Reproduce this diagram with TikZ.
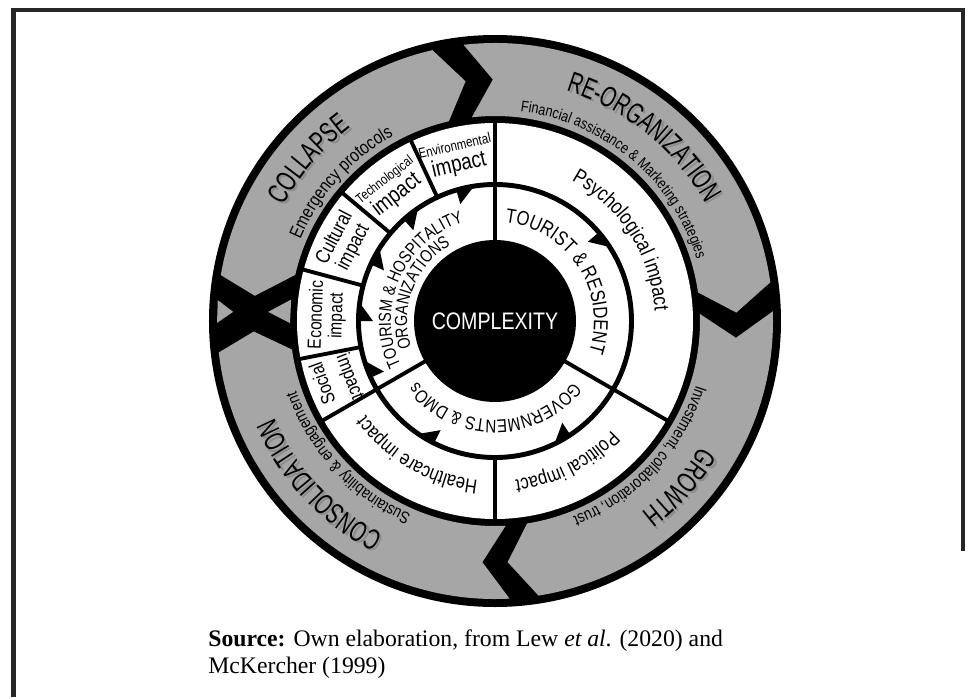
\documentclass[tikz,border=0pt]{standalone}
\usepackage{fontspec}
\setmainfont{Liberation Serif}
\setsansfont{Liberation Sans}[FakeStretch=0.82]
\newfontfamily\ttlfam{Liberation Sans}[FakeStretch=0.68]
\usetikzlibrary{decorations.text, positioning}
\newcommand\ttlfont{\ttlfam\fontsize{16.5}{19}\selectfont}
\newcommand\subfont{\sffamily\fontsize{9.5}{11}\selectfont}
\newcommand\actfont{\sffamily\fontsize{11.5}{13}\selectfont}

\begin{document}
\begin{tikzpicture}[x=0.02cm,y=0.02cm,
  band/.style={fill=black!35},
  divider/.style={line width=2.2pt},
  tooth/.style={fill=black},
  impact/.style={font=\sffamily\fontsize{11.5}{12}\selectfont, align=center, inner sep=0pt},
  along/.style={decorate, decoration={text along path, text align=center, text={#1}}},
  shade/.style={xshift=1.3, yshift=-1.3}]
\useasboundingbox (-495,-376) rectangle (479,321);
% frame
\draw[line width=2.3pt, black!85] (-481.5,-376) -- (-481.5,311) -- (468,311) -- (468,-230);
% adaptive cycle ring
\fill (0,0) circle[radius=286];
\fill[band] (170.5:278) arc[start angle=170.5, end angle=103, radius=278] -- (97:241.5)
  -- (103:205) arc[start angle=103, end angle=167, radius=205] -- (174:241.5) -- cycle;
\fill[band] (96.5:278) arc[start angle=96.5, end angle=8, radius=278] -- (2:241.5)
  -- (8:205) arc[start angle=8, end angle=96.5, radius=205] -- (90.5:241.5) -- cycle;
\fill[band] (2:278) arc[start angle=2, end angle=-81, radius=278] -- (-87:241.5)
  -- (-81:205) arc[start angle=-81, end angle=2, radius=205] -- (-4:241.5) -- cycle;
\fill[band] (-87:278) arc[start angle=-87, end angle=-173.5, radius=278] -- (-177.5:241.5)
  -- (-172:205) arc[start angle=-172, end angle=-87, radius=205] -- (-93:241.5) -- cycle;
\fill[band] (175.7:278) -- (180.4:278) -- (178:262) -- cycle;
\fill[band] (174:205) -- (180.6:205) -- (177.7:227) -- cycle;
% impacts and actors
\fill[white] (0,0) circle[radius=198];
\draw[line width=2.8pt] (0,0) circle[radius=136.5];
\foreach \a in {115,140,165,191,270}
  \draw[divider] (\a:136) -- (\a:199);
\foreach \a in {90,210,330}
  \draw[divider] (\a:78) -- (\a:199);
\foreach \a in {103,128.5,152,176.5,201,240,300,37}
  \fill[tooth] ({\a+3.5}:135) -- ({\a-3.5}:135) -- ({\a+3.5}:122) -- cycle;
\node (core) [circle, fill=black, inner sep=0pt, minimum size=3.24cm, text=white,
  font=\sffamily\fontsize{13.6}{16}\selectfont] at (0,0) {COMPLEXITY};
% phases
\foreach \c/\l in {139/COLLAPSE, 51/RE-ORGANIZATION, -42/GROWTH, 223/CONSOLIDATION} {
  \path[along={|\ttlfont\color{black!45}|\l}, shade] ({\c+60}:241) arc[start angle={\c+60}, end angle={\c-60}, radius=241];
  \path[along={|\ttlfont|\l}] ({\c+60}:241) arc[start angle={\c+60}, end angle={\c-60}, radius=241];
}
\path[along={|\sffamily\fontsize{10.5}{12}\selectfont|Emergency protocols}] (198:211) arc[start angle=198, end angle=78, radius=211];
\path[along={|\sffamily\fontsize{8.8}{10}\selectfont|Financial assistance {\&} Marketing strategies}] (110:211) arc[start angle=110, end angle=-10, radius=211];
\path[along={|\subfont|Investment, collaboration, trust}] (17:211) arc[start angle=17, end angle=-103, radius=211];
\path[along={|\subfont|Sustainability {\&} engagement}] (283:211) arc[start angle=283, end angle=163, radius=211];
% impact labels
\path[along={|\sffamily\fontsize{12}{14}\selectfont|Psychological impact}] (92.5:160) arc[start angle=92.5, end angle=-27.5, radius=160];
\path[along={|\actfont|Political impact}] (-3:160) arc[start angle=-3, end angle=-123, radius=160];
\path[along={|\actfont|Healthcare impact}] (-60:160) arc[start angle=-60, end angle=-180, radius=160];
\node (envImp) [impact, rotate=13] at (103:167)
  {{\fontsize{8}{8.5}\selectfont Environmental}\\{\fontsize{13}{13}\selectfont impact}};
\node (techImp) [impact, rotate=38] at (128:167)
  {{\fontsize{7.8}{8.5}\selectfont Technological}\\{\fontsize{13}{13}\selectfont impact}};
\node (cultImp) [impact, rotate=62.5] at (152.5:170) {Cultural\\impact};
\node (econImp) [impact, rotate=88, font=\sffamily\fontsize{10.8}{11.5}\selectfont] at (178:168) {Economic\\impact};
\node (socA) [impact, rotate=110, font=\sffamily\fontsize{11}{12}\selectfont] at (200:184) {Social};
\node (socB) [impact, rotate=-69, font=\sffamily\fontsize{11}{12}\selectfont] at (201:156) {impact};
% actors
\path[along={|\actfont|TOURIST {\&} RESIDENT}] (103:99) arc[start angle=103, end angle=-37, radius=99];
\path[along={|\sffamily\fontsize{10.5}{12}\selectfont|GOVERNMENTS {\&} DMOs}] (-20:99) arc[start angle=-20, end angle=-160, radius=99];
\path[along={|\sffamily\fontsize{10}{12}\selectfont|TOURISM {\&} HOSPITALITY}] (226.5:104) arc[start angle=226.5, end angle=86.5, radius=104];
\path[along={|\sffamily\fontsize{10}{12}\selectfont|ORGANIZATIONS}] (229:88) arc[start angle=229, end angle=89, radius=88];
% source
\node (srcA) [anchor=base west, inner sep=0pt, font=\fontsize{13.5}{16}\selectfont] at (-287,-325)
  {\textbf{Source:} Own elaboration, from Lew \textit{et al}. (2020) and};
\node (srcB) [anchor=base west, inner sep=0pt, font=\fontsize{13.5}{16}\selectfont] at ([yshift=-15.9pt]srcA.base west)
  {McKercher (1999)};
\end{tikzpicture}
\end{document}
